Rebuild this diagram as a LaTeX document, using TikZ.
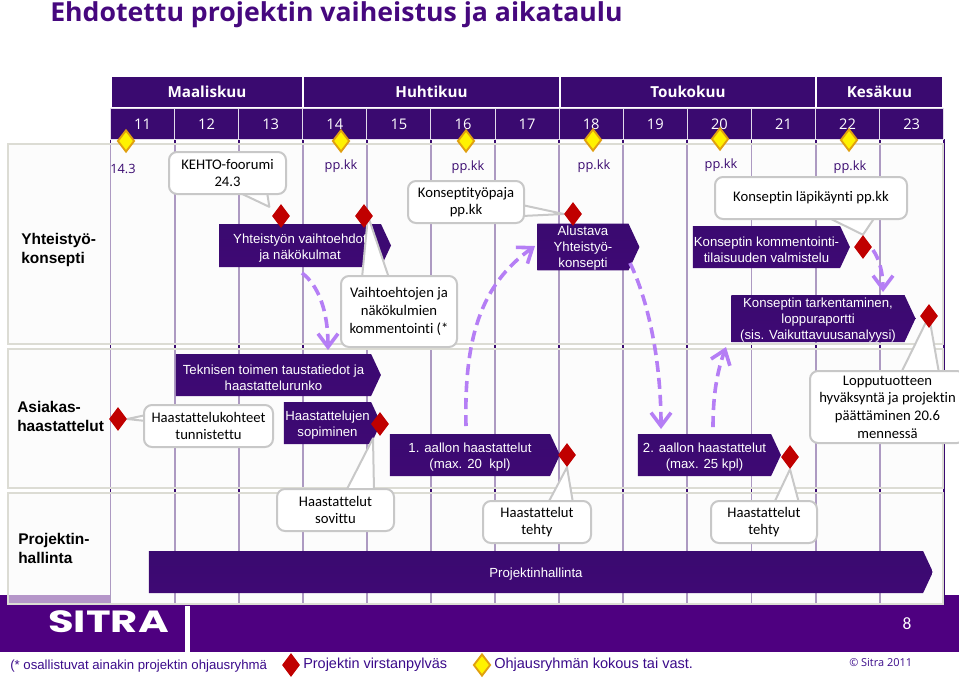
\documentclass[tikz,border=0pt]{standalone}
\usepackage{fontspec}
\usetikzlibrary{arrows.meta,shapes.geometric,shapes.symbols}
\setmainfont{Liberation Sans}
\newfontfamily\bodyfont[Ligatures=CommonOff]{Carlito}
\newfontfamily\headfont{Open Sans}
\newfontfamily\logofont{Poppins}
\definecolor{headpurple}{HTML}{3A0A70}
\definecolor{footpurple}{HTML}{4E0080}
\definecolor{barpurple}{HTML}{3C0A72}
\definecolor{titleblue}{HTML}{3A0A8A}
\definecolor{titlepurple}{HTML}{46087E}
\definecolor{panelgray}{HTML}{FAFAFA}
\definecolor{panelline}{HTML}{DCDCD4}
\definecolor{callline}{HTML}{C8C8C8}
\definecolor{flowviolet}{HTML}{B57EF5}
\definecolor{msred}{HTML}{C00000}
\definecolor{msorange}{HTML}{E0A010}
\newlength{\px}
\setlength{\px}{0.75pt}
\pgfdeclarelayer{front}
\pgfsetlayers{main,front}
\newcommand{\calltail}[3]{%
  \fill[white] #1 -- #2 -- #3 -- cycle;
  \draw[callline, line width=1.5pt, line join=round] #1 -- #2 -- #3;
}
\tikzset{
  monthbox/.style={fill=headpurple, draw=white, line width=0.8pt, text=white, minimum height=31\px,
    inner sep=0pt, font=\headfont\bfseries\fontsize{11.4pt}{13pt}\selectfont},
  weekbox/.style={fill=headpurple, draw=white!85!headpurple, line width=0.8pt, text=white, minimum height=31\px,
    minimum width=64.1\px, inner sep=0pt, font=\headfont\fontsize{11pt}{13pt}\selectfont},
  panel/.style={draw=panelline, line width=0.8pt, fill=panelgray, fill opacity=0.6},
  phasebar/.style={signal, signal to=east, signal from=nowhere, signal pointer angle=130,
    top color=headpurple, bottom color=barpurple!85!footpurple, text=white, inner sep=0pt, align=center,
    font=\fontsize{9.9pt}{12pt}\selectfont, execute at begin node={\rule{0pt}{#1pt}}},
  phasebar/.default=23,
  callbox/.style={rounded corners=6pt, draw=callline, line width=1.5pt, fill=white, inner sep=0pt, align=center,
    font=\bodyfont\fontsize{11pt}{13.3pt}\selectfont},
  msred/.style={diamond, fill=msred, inner sep=0pt, minimum width=18\px, minimum height=24\px},
  msyellow/.style={diamond, fill=yellow, draw=msorange, line width=1.4pt, inner sep=0pt,
    minimum width=17\px, minimum height=22\px},
  flowarrow/.style={draw=flowviolet, line width=3.6\px, dash pattern=on 11\px off 6\px,
    -{Straight Barb[length=10pt,width=15pt,line width=2.7pt]}},
  rowlabel/.style={anchor=west, align=left, inner sep=0pt, font=\bfseries\fontsize{11.6pt}{14.2pt}\selectfont},
  datelabel/.style={text=headpurple, inner sep=0pt, font=\headfont\fontsize{9.6pt}{11pt}\selectfont},
  legendtext/.style={anchor=west, text=titleblue, inner sep=0pt}
}
\begin{document}
\begin{tikzpicture}[x=\px, y=-\px]
  \clip (0,0) rectangle (959,679);
  % Footer band
  \fill[footpurple] (0,605) rectangle (959,652);
  \fill[footpurple] (0,595) rectangle (110,605);
  \fill[footpurple] (945,595) rectangle (959,605);
  \fill[white] (185,606) rectangle (190,652);
  % Row panels and week lines
  \foreach \wx in {0,...,13}
    \draw[headpurple, line width=1.4pt] ({110.5+64.1*\wx},139) -- ({110.5+64.1*\wx},605);
  \draw[panel] (8,144) rectangle (943,344);
  \draw[panel] (8,349) rectangle (943,488);
  \draw[panel] (8,493) rectangle (943,604);
  % Title
  \node[anchor=base west, text=titlepurple, inner sep=0pt, xscale=1.02, font=\headfont\bfseries\fontsize{19.6pt}{24pt}\selectfont] (title) at (50,21)
    {Ehdotettu projektin vaiheistus ja aikataulu};
  % Months
  \node[monthbox, minimum width=192\px] (maaliskuu) at (207,92) {Maaliskuu};
  \node[monthbox, minimum width=257\px] (huhtikuu) at (431.5,92) {Huhtikuu};
  \node[monthbox, minimum width=256\px] (toukokuu) at (688,92) {Toukokuu};
  \node[monthbox, minimum width=127\px] (kesakuu) at (879.5,92) {Kesäkuu};
  % Weeks
  \foreach \wk [count=\wi from 0] in {11,...,23}
    \node[weekbox] (wk\wk) at ({142.5+64.1*\wi},124) {\wk};
  % Row labels
  \node[rowlabel] (rowyht) at (21,250) {Yhteistyö-\\konsepti};
  \node[rowlabel] (rowasi) at (17,416) {Asiakas-\\haastattelut};
  \node[rowlabel] (rowpro) at (18,548) {Projektin-\\hallinta};
  % Phases
  \node[phasebar, minimum width=172\px, minimum height=43\px] (yhtbar) at (300,245.5) {Yhteistyön vaihtoehdot\\ja näkökulmat};
  \node[phasebar=33, minimum width=102\px, minimum height=46\px] (alubar) at (583,247) {Alustava\\Yhteistyö-\\konsepti};
  \node[phasebar, minimum width=157\px, minimum height=42\px] (kombar) at (766.5,247) {Konseptin kommentointi-\\tilaisuuden valmistelu};
  \node[phasebar=33, minimum width=184\px, minimum height=47\px] (tarbar) at (818,318.5) {Konseptin tarkentaminen,\\loppuraportti\\(sis. Vaikuttavuusanalyysi)};
  \node[phasebar, minimum width=205\px, minimum height=42\px] (tekbar) at (273.5,375) {Teknisen toimen taustatiedot ja\\haastattelurunko};
  \node[phasebar, minimum width=97\px, minimum height=42\px] (sopbar) at (327.5,423) {Haastattelujen\\sopiminen};
  \node[phasebar, minimum width=170\px, minimum height=42\px] (aa1bar) at (470,455) {1. aallon haastattelut\\(max. 20\ \ kpl)};
  \node[phasebar, minimum width=143\px, minimum height=42\px] (aa2bar) at (704.5,455) {2. aallon haastattelut\\(max. 25 kpl)};
  \node[phasebar=11, minimum width=784\px, minimum height=42\px] (hallbar) at (536,572) {Projektinhallinta};
  % Milestones
  \begin{pgfonlayer}{front}
    \node[msred] (ms1) at (281,216) {};
    \node[msred] (ms2) at (364,216) {};
    \node[msred] (ms3) at (573,214) {};
    \node[msred] (ms4) at (863,247) {};
    \node[msred] (ms5) at (929,316) {};
    \node[msred] (ms6) at (118,419) {};
    \node[msred] (ms7) at (380,424) {};
    \node[msred] (ms8) at (567,455) {};
    \node[msred] (ms9) at (790,457) {};
  \end{pgfonlayer}
  % Callouts
  \calltail{(238,192)}{([xshift=-7\px,yshift=3\px]ms1.north west)}{(267,192)}
  \node[callbox, minimum width=117\px, minimum height=42\px] (kehto) at (227.5,173) {KEHTO-foorumi\\24.3};
  \calltail{(522,205)}{(ms3.west)}{(522,216)}
  \node[callbox, minimum width=116\px, minimum height=42\px] (paja) at (466,202) {Konseptityöpaja\\pp.kk};
  \calltail{(362,278)}{([xshift=4\px]ms2.center)}{(389,278)}
  \node[callbox, minimum width=116\px, minimum height=71\px] (vaihto) at (399,311.5) {Vaihtoehtojen ja\\näkökulmien\\kommentointi (*};
  \calltail{(827,217)}{(ms4.north)}{(875,217)}
  \node[callbox, minimum width=192\px, minimum height=42\px] (lapi) at (811,198) {Konseptin läpikäynti pp.kk};
  \calltail{(901,373)}{(ms5.center)}{(939,373)}
  \node[callbox, minimum width=155\px, minimum height=72\px] (loppu) at (887.5,407) {Lopputuotteen\\hyväksyntä ja projektin\\päättäminen 20.6\\mennessä};
  \calltail{(146,415)}{(ms6.east)}{(146,421)}
  \node[callbox, minimum width=129\px, minimum height=42\px] (kohde) at (208.5,426) {Haastattelukohteet\\tunnistettu};
  \calltail{(346,491)}{([xshift=-7\px,yshift=-2\px]ms7.south)}{(374,491)}
  \node[callbox, minimum width=117\px, minimum height=42\px] (sovittu) at (335.5,510) {Haastattelut\\sovittu};
  \calltail{(548,503)}{(ms8.south)}{(573,503)}
  \node[callbox, minimum width=108\px, minimum height=42\px] (tehty1) at (537,522) {Haastattelut\\tehty};
  \calltail{(774,503)}{(ms9.south)}{(799,503)}
  \node[callbox, minimum width=106\px, minimum height=42\px] (tehty2) at (764,522) {Haastattelut\\tehty};
  % Steering group meetings
  \node[msyellow] (sg1) at (126,141) {};
  \node[msyellow] (sg2) at (341,141) {};
  \node[msyellow] (sg3) at (466,141) {};
  \node[msyellow] (sg4) at (593,140) {};
  \node[msyellow] (sg5) at (720,139) {};
  \node[msyellow] (sg6) at (849,140) {};
  \node[datelabel] (dt1) at (123,169) {14.3};
  \node[datelabel] (dt2) at (341,166) {pp.kk};
  \node[datelabel] (dt3) at (468,167) {pp.kk};
  \node[datelabel] (dt4) at (594,166) {pp.kk};
  \node[datelabel] (dt5) at (721,165) {pp.kk};
  \node[datelabel] (dt6) at (850,167) {pp.kk};
  % Flow arrows
  \coordinate (yhtout) at (302,273);
  \coordinate (tekin) at (328,350);
  \coordinate (aa1out) at (466,426);
  \coordinate (aluin) at (535,246);
  \coordinate (aluout) at (630,263);
  \coordinate (aa2in) at (661,429);
  \coordinate (aa2out) at (713,427);
  \coordinate (tarin) at (726,347);
  \coordinate (msout) at (873,250);
  \coordinate (tarout) at (883,292);
  \draw[flowarrow] (yhtout) .. controls (318,285) and (328,310) .. (tekin);
  \draw[flowarrow] (aa1out) .. controls (464,340) and (480,285) .. (aluin);
  \draw[flowarrow] (aluout) .. controls (648,300) and (661,360) .. (aa2in);
  \draw[flowarrow] (aa2out) .. controls (713,395) and (717,372) .. (tarin);
  \draw[flowarrow] (msout) .. controls (880,260) and (883,275) .. (tarout);
  % Footer texts
  \node[text=white, inner sep=0pt, xscale=1.36, font=\logofont\bfseries\fontsize{23pt}{25pt}\selectfont] (sitra) at (108.5,622) {SITRA};
  \node[text=white, inner sep=0pt, font=\bodyfont\fontsize{13pt}{15pt}\selectfont] (sivu) at (907,624) {8};
  % Legend
  \node[legendtext, font=\fontsize{9.9pt}{12pt}\selectfont] (lgnote) at (10,666) {(* osallistuvat ainakin projektin ohjausryhmä};
  \node[msred] (lgred) at (291,665) {};
  \node[legendtext, font=\fontsize{10.85pt}{14pt}\selectfont] (lgms) at (303,665) {Projektin virstanpylväs};
  \node[msyellow] (lgyel) at (482,665) {};
  \node[legendtext, font=\fontsize{10.9pt}{14pt}\selectfont] (lgsg) at (494,665) {Ohjausryhmän kokous tai vast.};
  \node[legendtext, font=\headfont\fontsize{8.2pt}{12pt}\selectfont] (lgcopy) at (849,663) {© Sitra 2011};
\end{tikzpicture}
\end{document}
